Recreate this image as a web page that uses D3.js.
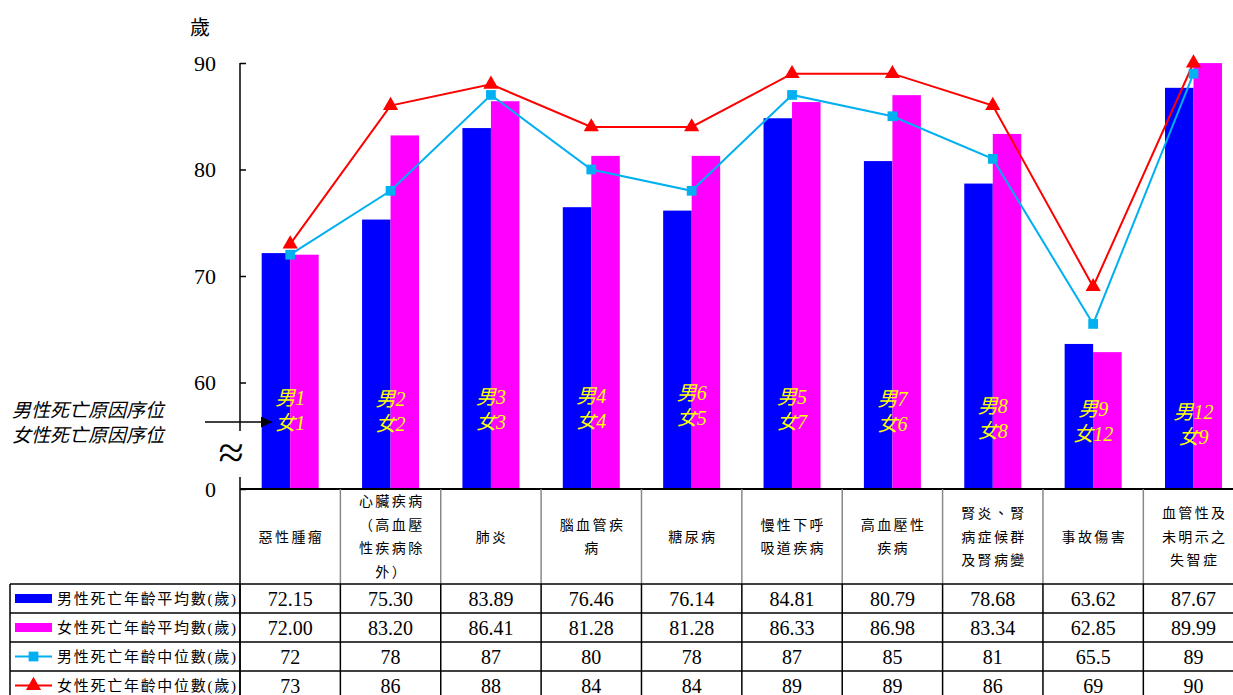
<!DOCTYPE html>
<html><head><meta charset="utf-8">
<script src="https://cdn.jsdelivr.net/npm/d3@7"></script>
<style>
html,body{margin:0;padding:0;background:#fff;}
svg{display:block;}
</style></head>
<body>
<svg id="chart" width="1233" height="695"></svg>
<script>
// ---- data ----
const categories = ["惡性腫瘤","心臟疾病（高血壓性疾病除外）","肺炎","腦血管疾病","糖尿病","慢性下呼吸道疾病","高血壓性疾病","腎炎、腎病症候群及腎病變","事故傷害","血管性及未明示之失智症"];
const categoryLines = [["惡性腫瘤"],["心臟疾病","（高血壓","性疾病除","外）"],["肺炎"],["腦血管疾","病"],["糖尿病"],["慢性下呼","吸道疾病"],["高血壓性","疾病"],["腎炎、腎","病症候群","及腎病變"],["事故傷害"],["血管性及","未明示之","失智症"]];
const maleMean   = [72.15,75.30,83.89,76.46,76.14,84.81,80.79,78.68,63.62,87.67];
const femaleMean = [72.00,83.20,86.41,81.28,81.28,86.33,86.98,83.34,62.85,89.99];
const maleMedian   = [72,78,87,80,78,87,85,81,65.5,89];
const femaleMedian = [73,86,88,84,84,89,89,86,69,90];
const maleMeanText   = ["72.15","75.30","83.89","76.46","76.14","84.81","80.79","78.68","63.62","87.67"];
const femaleMeanText = ["72.00","83.20","86.41","81.28","81.28","86.33","86.98","83.34","62.85","89.99"];
const maleMedianText   = ["72","78","87","80","78","87","85","81","65.5","89"];
const femaleMedianText = ["73","86","88","84","84","89","89","86","69","90"];
const maleRank   = ["男1","男2","男3","男4","男6","男5","男7","男8","男9","男12"];
const femaleRank = ["女1","女2","女3","女4","女5","女7","女6","女8","女12","女9"];
const rankAnchor = [57.3,57.2,57.4,57.5,57.8,57.45,57.25,56.55,56.3,56.05];
const yTicks = [50,60,70,80,90];
const yTickLabels = ["0","60","70","80","90"];
const seriesNames = ["男性死亡年齡平均數(歲)","女性死亡年齡平均數(歲)","男性死亡年齡中位數(歲)","女性死亡年齡中位數(歲)"];

// ---- style ----
const BLUE="#0000FF", MAG="#FF00FF", CYAN="#00B0F0", RED="#FF0000";
const SERIF="'Liberation Serif','Times New Roman',serif";
const CJK="'Liberation Serif','Noto Sans CJK TC','Noto Sans CJK SC',serif";

const svg = d3.select("#chart");
const axisX = 240, plotRight = 1243.7, yTop = 63, yBot = 489;
const x = d3.scaleBand().domain(categories).range([axisX, plotRight]).padding(0);
const y = d3.scaleLinear().domain([50,90]).range([yBot, yTop]);
const inner = d3.scaleBand().domain(["m","f"]).range([0, 57]);
const cx = c => x(c) + x.bandwidth()/2;

// bars
const g = svg.append("g");
g.selectAll("rect.m").data(categories).join("rect")
  .attr("x", c => cx(c) - 28.5 + inner("m")).attr("width", inner.bandwidth())
  .attr("y", (c,i) => y(maleMean[i])).attr("height", (c,i) => yBot - y(maleMean[i]))
  .attr("fill", BLUE);
g.selectAll("rect.f").data(categories).join("rect")
  .attr("x", c => cx(c) - 28.5 + inner("f")).attr("width", inner.bandwidth())
  .attr("y", (c,i) => y(femaleMean[i])).attr("height", (c,i) => yBot - y(femaleMean[i]))
  .attr("fill", MAG);

// rank labels
const rl = svg.append("g").attr("font-family", CJK).attr("font-style","italic").attr("font-size", 20).attr("fill","#FFFF00").attr("text-anchor","middle");
categories.forEach((c,i) => {
  const yy = y(rankAnchor[i]);
  rl.append("text").attr("x", cx(c)).attr("y", yy - 13).attr("dominant-baseline","central").text(maleRank[i]);
  rl.append("text").attr("x", cx(c)).attr("y", yy + 12).attr("dominant-baseline","central").text(femaleRank[i]);
});

// lines
const line = d3.line().x(d => cx(d[0])).y(d => y(d[1]));
svg.append("path").datum(categories.map((c,i)=>[c,maleMedian[i]])).attr("d", line)
  .attr("fill","none").attr("stroke", CYAN).attr("stroke-width", 2);
svg.append("path").datum(categories.map((c,i)=>[c,femaleMedian[i]])).attr("d", line)
  .attr("fill","none").attr("stroke", RED).attr("stroke-width", 2);
const sq = d3.symbol().type(d3.symbolSquare).size(95);
const tri = d3.symbol().type(d3.symbolTriangle).size(100);
svg.selectAll("path.sq").data(categories).join("path").attr("class","sq")
  .attr("transform",(c,i)=>`translate(${cx(c)},${y(maleMedian[i])})`).attr("d", sq).attr("fill", CYAN);
svg.selectAll("path.tri").data(categories).join("path").attr("class","tri")
  .attr("transform",(c,i)=>`translate(${cx(c)},${y(femaleMedian[i])})`).attr("d", tri).attr("fill", RED);

// y axis
const yAxis = d3.axisLeft(y).tickValues(yTicks).tickSize(-6).tickPadding(24)
  .tickFormat((d,i) => yTickLabels[i]);
const ya = svg.append("g").attr("transform", `translate(${axisX},0)`).call(yAxis);
ya.select(".domain").remove();
ya.selectAll(".tick line").attr("stroke","#000").attr("stroke-width",1.5);
ya.selectAll(".tick text").attr("font-family", SERIF).attr("font-size", 22).attr("fill","#000");
// axis line with break
svg.append("line").attr("x1",axisX).attr("x2",axisX).attr("y1",yTop).attr("y2",431).attr("stroke","#000").attr("stroke-width",1.5);
svg.append("line").attr("x1",axisX).attr("x2",axisX).attr("y1",477).attr("y2",695).attr("stroke","#000").attr("stroke-width",1.5);
svg.append("text").attr("x",231).attr("y",452).attr("text-anchor","middle").attr("dominant-baseline","central")
  .attr("font-family",SERIF).attr("font-size",46).text("≈");
svg.append("text").attr("x",200).attr("y",28).attr("text-anchor","middle").attr("dominant-baseline","central")
  .attr("font-family",CJK).attr("font-size",20).text("歲");

// left rank caption + arrow
svg.append("defs").append("marker").attr("id","arr").attr("viewBox","0 0 10 10").attr("refX",10).attr("refY",5)
  .attr("markerUnits","userSpaceOnUse").attr("markerWidth",12).attr("markerHeight",11).attr("orient","auto")
  .append("path").attr("d","M0,0L10,5L0,10Z").attr("fill","#000");
svg.append("line").attr("x1",205).attr("x2",272).attr("y1",422).attr("y2",422).attr("stroke","#000").attr("stroke-width",1.5).attr("marker-end","url(#arr)");
const cap = svg.append("g").attr("font-family",CJK).attr("font-style","italic").attr("font-size",19).attr("fill","#000");
cap.append("text").attr("x",12).attr("y",410).attr("dominant-baseline","central").text("男性死亡原因序位");
cap.append("text").attr("x",12).attr("y",435).attr("dominant-baseline","central").text("女性死亡原因序位");

// ---- data table ----
const rowTops = [584, 613, 642, 671, 700];
const tbl = svg.append("g");
tbl.append("line").attr("x1",axisX).attr("x2",1233).attr("y1",yBot).attr("y2",yBot).attr("stroke","#000").attr("stroke-width",2);
categories.forEach((c,i) => {
  if (i>0) tbl.append("line").attr("x1",x(c)).attr("x2",x(c)).attr("y1",yBot).attr("y2",584).attr("stroke","#888").attr("stroke-width",1.5);
  tbl.append("line").attr("x1",x(c)).attr("x2",x(c)).attr("y1",584).attr("y2",695).attr("stroke","#000").attr("stroke-width",1.5);
});
rowTops.forEach(r => tbl.append("line").attr("x1",10).attr("x2",1233).attr("y1",r).attr("y2",r).attr("stroke","#000").attr("stroke-width",1.5));
tbl.append("line").attr("x1",10).attr("x2",10).attr("y1",584).attr("y2",695).attr("stroke","#000").attr("stroke-width",1.5);

// header text
const hdr = tbl.append("g").attr("font-family",CJK).attr("font-size",14).attr("fill","#000").attr("text-anchor","middle").attr("letter-spacing","2.4px");
categories.forEach((c,i) => {
  const lines = categoryLines[i], n = lines.length, lh = 23.4;
  lines.forEach((t,k) => {
    hdr.append("text").attr("x", cx(c) + 1.2).attr("y", 537 + (k - (n-1)/2)*lh)
      .attr("dominant-baseline","central").text(t);
  });
});
// values
const rowsText = [maleMeanText, femaleMeanText, maleMedianText, femaleMedianText];
const vals = tbl.append("g").attr("font-family",SERIF).attr("font-size",20).attr("fill","#000").attr("text-anchor","middle");
rowsText.forEach((arr,r) => {
  const yc = (rowTops[r] + rowTops[r+1])/2;
  categories.forEach((c,i) => vals.append("text").attr("x",cx(c)).attr("y",yc).attr("dominant-baseline","central").text(arr[i]));
});
// legend keys
const leg = tbl.append("g");
seriesNames.forEach((s,r) => {
  const yc = (rowTops[r] + rowTops[r+1])/2;
  if (r===0) leg.append("rect").attr("x",15).attr("y",yc-4.5).attr("width",37).attr("height",9).attr("fill",BLUE);
  if (r===1) leg.append("rect").attr("x",15).attr("y",yc-4.5).attr("width",37).attr("height",9).attr("fill",MAG);
  if (r===2) {
    leg.append("line").attr("x1",15).attr("x2",52).attr("y1",yc).attr("y2",yc).attr("stroke",CYAN).attr("stroke-width",2);
    leg.append("path").attr("transform",`translate(33.5,${yc})`).attr("d",sq).attr("fill",CYAN);
  }
  if (r===3) {
    leg.append("line").attr("x1",15).attr("x2",52).attr("y1",yc).attr("y2",yc).attr("stroke",RED).attr("stroke-width",2);
    leg.append("path").attr("transform",`translate(33.5,${yc})`).attr("d",tri).attr("fill",RED);
  }
  leg.append("text").attr("x",57).attr("y",yc).attr("dominant-baseline","central")
    .attr("font-family",CJK).attr("font-size",15).attr("textLength",179).attr("lengthAdjust","spacing").text(s);
});
</script>
</body></html>
